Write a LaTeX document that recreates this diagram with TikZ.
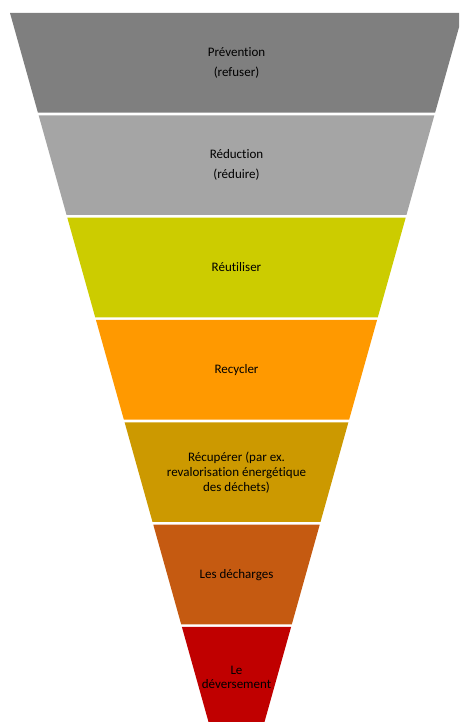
\documentclass[tikz,border=0pt]{standalone}
\usepackage{fontspec}
\setmainfont{Carlito}[Ligatures=NoCommon]
\usepackage{tikz}
\definecolor{bandprevention}{HTML}{7F7F7F}
\definecolor{bandreduction}{HTML}{A5A5A5}
\definecolor{bandreutiliser}{HTML}{CCCC00}
\definecolor{bandrecycler}{HTML}{FF9900}
\definecolor{bandrecuperer}{HTML}{CC9900}
\definecolor{banddecharges}{HTML}{C55A11}
\definecolor{banddeversement}{HTML}{C00000}
% one slice of the funnel, between two heights measured from the top
\def\funnelband[#1](#2:#3){\fill[#1] ({10+0.28*(#2-13)}, {722-#2}) -- ({463-0.28*(#2-13)}, {722-#2}) -- ({463-0.28*(#3-13)}, {722-#3}) -- ({10+0.28*(#3-13)}, {722-#3}) -- cycle;}
\tikzset{bandlabel/.style={align=center, text=black, font=\fontsize{13}{15}\selectfont}}

\begin{document}
\begin{tikzpicture}[x=1pt, y=1pt]
			%%%%% START %%%%%
			\useasboundingbox (0, 0) rectangle (459, 722);
			\clip (0, 0) rectangle (459, 722);
			
			\funnelband[bandprevention](13:112.7);
			\funnelband[bandreduction](115.3:215);
			\funnelband[bandreutiliser](217.7:317.3);
			\funnelband[bandrecycler](320:419.7);
			\funnelband[bandrecuperer](422.3:522);
			\funnelband[banddecharges](524.7:624.3);
			\funnelband[banddeversement](627:726.7);
			
			\node[bandlabel, font=\fontsize{13}{19.5}\selectfont] (prevention) at (236.5, 722-63) {Prévention\\(refuser)};
			\node[bandlabel, font=\fontsize{13}{19.5}\selectfont] (reduction) at (236.5, 722-165) {Réduction\\(réduire)};
			\node[bandlabel] (reutiliser) at (236.5, 722-267.5) {Réutiliser};
			\node[bandlabel] (recycler) at (236.5, 722-370) {Recycler};
			\node[bandlabel] (recuperer) at (236.5, 722-472.5) {Récupérer (par ex.\\revalorisation énergétique\\des déchets)};
			\node[bandlabel] (decharges) at (236.5, 722-575) {Les décharges};
			\node[bandlabel, font=\fontsize{13}{14}\selectfont] (deversement) at (236.5, 722-677) {Le\\déversement};
			
			%%%%% END %%%%%
\end{tikzpicture}
\end{document}
